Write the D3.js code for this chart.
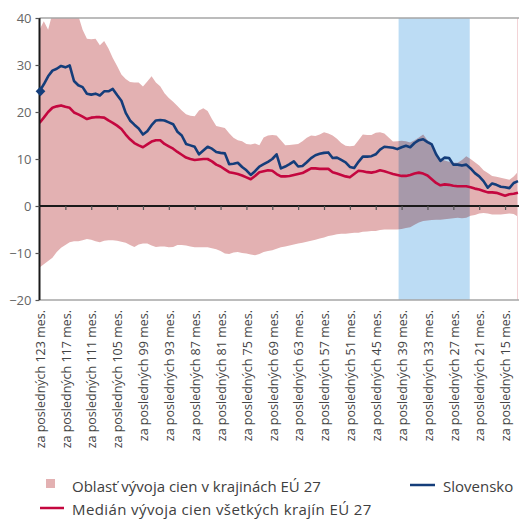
<!DOCTYPE html>
<html>
<head>
<meta charset="utf-8">
<script src="https://cdn.jsdelivr.net/npm/d3@7"></script>
<style>
  body { margin: 0; background: #fff; }
  svg { font-family: "Open Sans", sans-serif; }
  .band { mix-blend-mode: multiply; }
</style>
</head>
<body>
<svg id="chart" width="519" height="519"></svg>
<script>
// months back from now (categories), 123 .. 12
const months = d3.range(123, 11, -1);
const tickMonths = [123, 117, 111, 105, 99, 93, 87, 81, 75, 69, 63, 57, 51, 45, 39, 33, 27, 21, 15];
const yTicks = [-20, -10, 0, 10, 20, 30, 40];

// EU 27 range (upper / lower bound)
const euMax = [
  37.5, 39.3, 37.5, 41, 42, 43, 43, 42, 41.5, 40.5,
  37.5, 35.6, 35.5, 35.6, 34.2, 35.1, 33.5, 31.5, 29.8, 28,
  27, 26.4, 26.3, 26.3, 25.4, 26.5, 27.6, 26.3, 25.5, 24.0,
  23.0, 22.2, 21.3, 20.3, 19.5, 19.2, 19.1, 20.3, 20.8, 20.2,
  18.5, 17.0, 16.8, 16.6, 15.5, 14.5, 14.0, 13.8, 13.2, 13.1,
  13.3, 12.9, 14.6, 15.0, 15.1, 15.0, 14.0, 12.9, 13.0, 13.1,
  13.2, 13.8, 14.5, 15.0, 14.9, 15.2, 15.7, 15.4, 15.0, 14.3,
  13.4, 12.8, 12.7, 12.8, 14.0, 15.2, 15.1, 15.1, 15.6, 15.7,
  15.4, 14.6, 13.7, 13.8, 13.9, 13.8, 13.5, 14.0, 14.6, 15.2,
  14.0, 13.4, 11.0, 10.0, 9.7, 9.4, 9.2, 9.2, 9.8, 10.6,
  10.0, 9.3, 8.6, 7.6, 7.0, 6.4, 6.2, 6.0, 5.8, 5.6,
  6.3, 7.3
];
const euMin = [
  -13.1, -12.4, -11.7, -11.0, -9.8, -8.9, -8.3, -7.7, -7.5, -7.5,
  -7.3, -7.0, -7.2, -7.5, -7.7, -7.4, -7.3, -7.3, -7.4, -7.6,
  -7.8, -8.3, -8.7, -8.2, -8.0, -8.0, -8.4, -8.7, -8.6, -8.6,
  -8.8, -8.7, -8.3, -8.3, -8.4, -8.6, -8.8, -8.8, -8.8, -8.8,
  -9.0, -9.2, -9.6, -10.1, -10.2, -9.9, -9.8, -10.0, -10.1, -10.3,
  -10.5, -10.2, -9.8, -9.6, -9.4, -9.1, -8.8, -8.6, -8.4, -8.2,
  -8.0, -7.8, -7.6, -7.4, -7.2, -6.9, -6.7, -6.4, -6.2, -6.0,
  -5.9, -5.9, -5.8, -5.7, -5.7, -5.5, -5.4, -5.3, -5.3, -5.1,
  -5.0, -5.0, -5.0, -5.0, -4.9, -4.7, -4.5, -4.0, -3.5, -3.2,
  -3.1, -3.0, -2.9, -2.9, -2.8, -2.7, -2.6, -2.5, -2.6, -2.5,
  -2.1, -1.9, -1.6, -1.5, -1.6, -1.8, -1.8, -1.8, -1.7, -1.6,
  -1.7, -2.3
];
// median of EU 27
const euMedian = [
  17.7, 18.8, 20.0, 20.9, 21.2, 21.4, 21.1, 20.9, 19.9, 19.5,
  19.0, 18.5, 18.8, 18.9, 18.9, 18.8, 18.2, 17.7, 17.1, 16.4,
  15.2, 14.2, 13.4, 12.9, 12.5, 13.1, 13.7, 14.0, 14.0, 13.2,
  12.7, 12.2, 11.5, 10.9, 10.3, 10.0, 9.8, 9.9, 10.0, 10.0,
  9.5, 8.8, 8.4, 7.8, 7.2, 7.0, 6.8, 6.5, 6.1, 5.7,
  6.4, 7.2, 7.4, 7.6, 7.5, 6.8, 6.3, 6.3, 6.4, 6.6,
  6.8, 7.0, 7.5, 8.0, 8.0, 7.9, 7.9, 7.9, 7.2, 6.9,
  6.6, 6.3, 6.1, 6.8, 7.5, 7.4, 7.2, 7.1, 7.3, 7.6,
  7.4, 7.1, 6.8, 6.6, 6.4, 6.4, 6.6, 6.9, 7.1, 6.9,
  6.5, 5.7, 4.9, 4.4, 4.6, 4.5, 4.3, 4.2, 4.2, 4.2,
  4.0, 3.7, 3.5, 3.2, 2.9, 2.9, 2.8, 2.5, 2.2, 2.5,
  2.6, 2.8
];
// Slovakia
const slovakia = [
  24.4, 25.9, 27.6, 28.8, 29.2, 29.8, 29.5, 29.9, 26.6, 25.7,
  25.3, 23.9, 23.7, 23.9, 23.5, 24.4, 24.4, 24.9, 23.6, 22.4,
  19.8, 18.2, 17.3, 16.5, 15.2, 15.9, 17.2, 18.2, 18.3, 18.2,
  17.8, 17.4, 15.8, 15.0, 13.2, 12.9, 12.6, 11.0, 11.8, 12.6,
  12.2, 11.5, 11.3, 11.2, 8.9, 9.0, 9.2, 8.3, 7.6, 6.6,
  7.4, 8.4, 8.9, 9.4, 10.0, 11.0, 8.0, 8.4, 8.9, 9.5,
  8.4, 8.5, 9.3, 10.2, 10.8, 11.1, 11.3, 11.4, 10.2, 10.3,
  9.8, 9.3, 8.3, 8.1, 9.4, 10.5, 10.5, 10.6, 11.0, 12.0,
  12.6, 12.5, 12.4, 12.1, 12.5, 12.8, 12.5, 13.4, 14.0, 14.2,
  13.6, 13.1, 11.0, 9.6, 10.3, 10.2, 8.8, 8.8, 8.6, 8.8,
  8.0, 7.0, 6.3, 5.3, 3.9, 4.8, 4.5, 4.1, 4.0, 3.8,
  4.9, 5.3
];
// highlighted period (in months)
const bandMonths = [39.7, 23.2];

const legendItems = [
  {label: 'Oblasť vývoja cien v krajinách EÚ 27', type: 'area'},
  {label: 'Medián vývoja cien všetkých krajín EÚ 27', type: 'median'},
  {label: 'Slovensko', type: 'sk'}
];

const colors = {area: '#e3b1b2', band: '#bcdcf4', median: '#c4073f', sk: '#143d7a'};

const W = 519, H = 519;
const pad = {left: 39.5, right: 1, top: 18, bottom: 219};
const svg = d3.select('#chart');

const x = d3.scaleLinear().domain([123, 12]).range([pad.left, W - pad.right]);
const y = d3.scaleLinear().domain([-20, 40]).range([H - pad.bottom, pad.top]);

const rows = months.map((m, i) => ({m, hi: euMax[i], lo: euMin[i], med: euMedian[i], sk: slovakia[i]}));

svg.append('clipPath').attr('id', 'plotclip')
  .append('rect')
  .attr('x', pad.left).attr('y', pad.top)
  .attr('width', W - pad.left).attr('height', y(-20) - pad.top);

const plot = svg.append('g').attr('clip-path', 'url(#plotclip)');

// EU range area
plot.append('path')
  .datum(rows)
  .attr('fill', colors.area)
  .attr('d', d3.area().x(d => x(d.m)).y0(d => y(d.lo)).y1(d => y(d.hi)));

// thin edge at the end of the series
plot.append('line')
  .attr('x1', x(12) - 0.5).attr('x2', x(12) - 0.5)
  .attr('y1', y(40)).attr('y2', y(-20))
  .attr('stroke', '#f3d3d6').attr('stroke-width', 1);

// highlighted period
plot.append('rect')
  .attr('class', 'band')
  .attr('x', x(bandMonths[0]))
  .attr('width', x(bandMonths[1]) - x(bandMonths[0]))
  .attr('y', y(40)).attr('height', y(-20) - y(40))
  .attr('fill', colors.band);

// top frame line
svg.append('line')
  .attr('x1', pad.left).attr('x2', W)
  .attr('y1', y(40)).attr('y2', y(40))
  .attr('stroke', '#a6a6a6').attr('stroke-width', 1.5);

// bottom axis with labels
const xAxis = d3.axisBottom(x).tickValues(tickMonths).tickSize(0)
  .tickFormat(d => `za posledných ${d} mes.`);
const gx = svg.append('g')
  .attr('transform', `translate(0, ${y(-20)})`)
  .call(xAxis);
gx.select('.domain').attr('stroke', '#a6a6a6').attr('stroke-width', 1.5)
  .attr('d', `M${pad.left},0H${W}`);
gx.selectAll('text')
  .attr('font-family', '"Open Sans", sans-serif')
  .attr('font-size', 12.5)
  .attr('fill', '#444')
  .attr('text-anchor', 'end')
  .attr('transform', 'rotate(-90)')
  .attr('x', -10).attr('y', 0).attr('dy', '0.38em');

// zero line with ticks
const zeroAxis = d3.axisBottom(x).tickValues(tickMonths.slice(1)).tickSize(4).tickFormat('');
const gz = svg.append('g')
  .attr('transform', `translate(0, ${y(0)})`)
  .call(zeroAxis);
gz.select('.domain').attr('stroke', '#1a1a1a').attr('stroke-width', 2)
  .attr('d', `M${pad.left},0H${W}`);
gz.selectAll('.tick line').attr('stroke', '#555').attr('stroke-width', 1.2);

// lines
plot.append('path')
  .datum(rows)
  .attr('fill', 'none')
  .attr('stroke', colors.median)
  .attr('stroke-width', 2.6)
  .attr('stroke-linejoin', 'round')
  .attr('d', d3.line().x(d => x(d.m)).y(d => y(d.med)));

plot.append('path')
  .datum(rows)
  .attr('fill', 'none')
  .attr('stroke', colors.sk)
  .attr('stroke-width', 2.6)
  .attr('stroke-linejoin', 'round')
  .attr('d', d3.line().x(d => x(d.m)).y(d => y(d.sk)));

// left axis
const yAxis = d3.axisLeft(y).tickValues(yTicks).tickSize(4).tickPadding(4);
const gy = svg.append('g')
  .attr('transform', `translate(${pad.left}, 0)`)
  .call(yAxis);
gy.select('.domain').attr('stroke', '#1a1a1a').attr('stroke-width', 2)
  .attr('d', `M0,${y(40)}V${y(-20)}`);
gy.selectAll('.tick line').attr('stroke', '#555').attr('stroke-width', 1.2);
gy.selectAll('text')
  .attr('font-family', '"Open Sans", sans-serif')
  .attr('font-size', 13)
  .attr('fill', '#666');

// marker on first Slovakia point
svg.append('path')
  .attr('d', d3.symbol(d3.symbolDiamond2, 60)())
  .attr('transform', `translate(${x(months[0]) + 1}, ${y(slovakia[0])})`)
  .attr('fill', colors.sk);

// legend
const lg = svg.append('g').attr('font-size', 15).attr('fill', '#404040');
const legendPos = [{x: 72, y: 492}, {x: 72, y: 515}, {x: 443, y: 492}];
legendItems.forEach((it, i) => {
  const p = legendPos[i];
  if (it.type === 'area') {
    lg.append('rect').attr('x', p.x - 26).attr('y', p.y - 13).attr('width', 9).attr('height', 9)
      .attr('fill', colors.area);
  } else {
    lg.append('line').attr('x1', p.x - (it.type === 'sk' ? 33 : 32)).attr('x2', p.x - 8)
      .attr('y1', p.y - 7).attr('y2', p.y - 7)
      .attr('stroke', colors[it.type]).attr('stroke-width', 2.5);
  }
  lg.append('text').attr('x', p.x).attr('y', p.y)
    .attr('letter-spacing', it.type === 'median' ? 0.4 : 0)
    .text(it.label);
});
</script>
</body>
</html>
